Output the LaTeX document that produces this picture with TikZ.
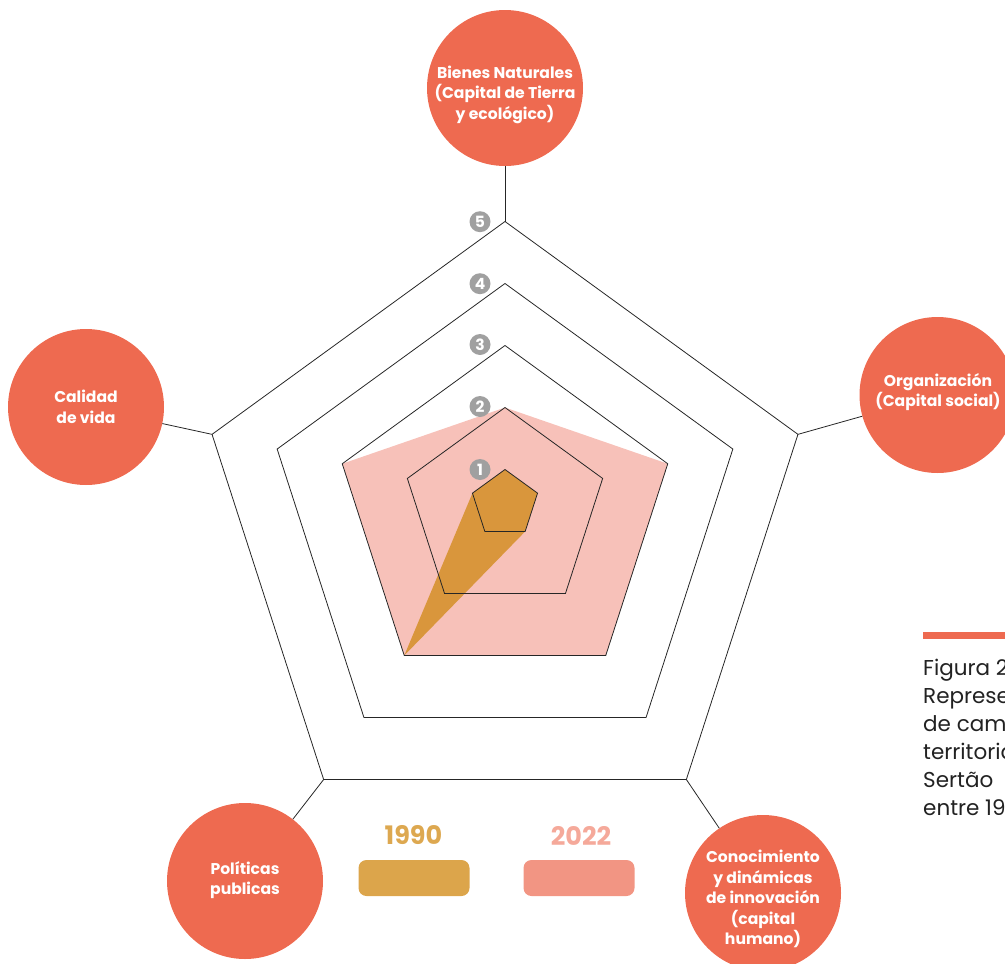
\documentclass[tikz,border=0pt]{standalone}
\usepackage{fontspec}
\setmainfont{Poppins}
\definecolor{coral}{HTML}{EE6A50}
\definecolor{pinkfill}{HTML}{F7C1B9}
\definecolor{orangefill}{HTML}{D9963C}
\definecolor{c1990}{HTML}{DCA54B}
\definecolor{c2022}{HTML}{F29583}
\definecolor{t1990}{HTML}{DDA850}
\definecolor{t2022}{HTML}{F5A99A}
\definecolor{lvlgray}{HTML}{A0A0A0}
\definecolor{captext}{HTML}{222222}
\begin{document}
\begin{tikzpicture}[x=1pt,y=-1pt,
  gridline/.style={draw=black!85, line width=0.8pt, line join=miter},
  axisnode/.style={circle, fill=coral, minimum size=156pt, inner sep=0pt},
  axistext/.style={text=white, font=\bfseries\fontsize{15.6}{20.5}\selectfont, align=center, inner sep=0pt},
  lvl/.style={circle, fill=lvlgray, minimum size=21pt, inner sep=0pt, text=white, font=\bfseries\fontsize{15.5}{15.5}\selectfont},
  legbox/.style={rounded corners=8pt, minimum width=111pt, minimum height=36pt, inner sep=0pt},
  legtext/.style={font=\bfseries\fontsize{25.5}{25.5}\selectfont, inner sep=0pt},
  captxt/.style={anchor=base west, inner sep=0pt, text=captext, font=\fontsize{21.5}{28}\selectfont}
]
\useasboundingbox (0,0) rectangle (1005,964);
\clip (0,0) rectangle (1005,964);

% radar vertices: level k uses scale s = k - 0.5
\foreach \k/\s in {1/0.5,2/1.5,3/2.5,4/3.5,5/4.5}{
  \coordinate (T\k)  at (505,{500.5-62*\s});
  \coordinate (R\k)  at ({505+65.1*\s},{500.5-14.7*\s});
  \coordinate (BR\k) at ({505+40.3*\s},{500.5+62*\s});
  \coordinate (BL\k) at ({505-40.3*\s},{500.5+62*\s});
  \coordinate (L\k)  at ({505-65.1*\s},{500.5-14.7*\s});
}

% data
\fill[pinkfill] (T2) -- (R3) -- (BR3) -- (BL3) -- (L3) -- cycle;
\fill[orangefill] (T1) -- (R1) -- (BR1) -- (BL3) -- (L1) -- cycle;

% grid
\foreach \k in {1,...,5}{
  \draw[gridline] (T\k) -- (R\k) -- (BR\k) -- (BL\k) -- (L\k) -- cycle;
}

% axis circles
\node[axisnode] (nat) at (505,88) {};
\node[axisnode] (org) at (937.5,395) {};
\node[axisnode] (con) at (763,893) {};
\node[axisnode] (pol) at (245,881) {};
\node[axisnode] (cal) at (86,407) {};

\node[axistext] (natt) at (505,94.5) {Bienes Naturales\\(Capital de Tierra\\y ecológico)};
\node[axistext] (orgt) at (938,392) {Organización\\(Capital social)};
\node[axistext] (cont) at (763,899) {Conocimiento\\y dinámicas\\de innovación\\(capital\\humano)};
\node[axistext] (polt) at (245,880) {Políticas\\publicas};
\node[axistext] (calt) at (86,407) {Calidad\\de vida};

% spokes
\draw[gridline] (T5) -- (nat);
\draw[gridline] (R5) -- (org);
\draw[gridline] (BR5) -- (con);
\draw[gridline] (BL5) -- (pol);
\draw[gridline] (L5) -- (cal);

% level labels
\node[lvl] (n5) at (480,221.7) {5};
\node[lvl] (n4) at (480,283.7) {4};
\node[lvl] (n3) at (480,344.5) {3};
\node[lvl] (n2) at (480,406.5) {2};
\node[lvl] (n1) at (480,469.5) {1};

% legend
\node[legtext, text=t1990] (y1990) at (413.5,835.5) {1990};
\node[legtext, text=t2022] (y2022) at (581,835.5) {2022};
\node[legbox, fill=c1990] (b1990) at (414,878) {};
\node[legbox, fill=c2022] (b2022) at (579,878) {};

% caption
\fill[coral] (923,631.7) rectangle (1005,639);
\node[captxt] (cap1) at (923,675) {Figura 2.};
\node[captxt] (cap2) at (923,703) {Representación};
\node[captxt] (cap3) at (923,731) {de cambios};
\node[captxt] (cap4) at (923,759) {territoriales};
\node[captxt] (cap5) at (923,787) {Sertão};
\node[captxt] (cap6) at (923,815) {entre 1990 y 2022};
\end{tikzpicture}
\end{document}
